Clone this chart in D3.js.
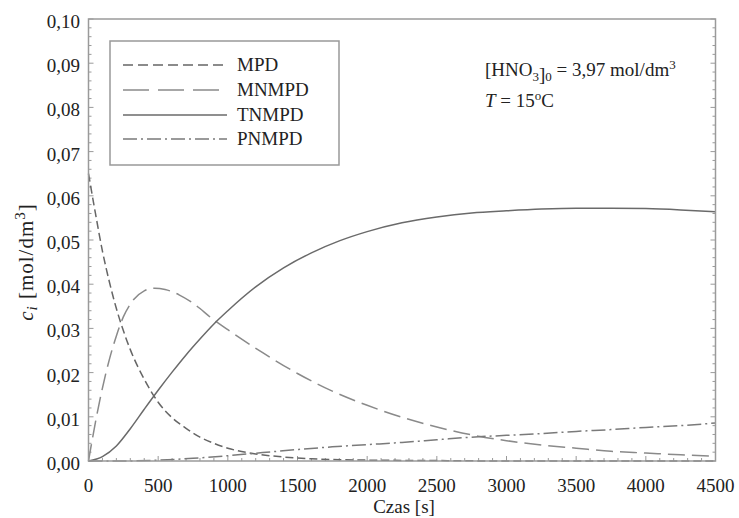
<!DOCTYPE html>
<html>
<head>
<meta charset="utf-8">
<script src="https://cdn.jsdelivr.net/npm/d3@7"></script>
<style>
  body { margin: 0; background: #fff; }
  text { font-family: "Liberation Serif", "DejaVu Serif", serif; fill: #222; }
</style>
</head>
<body>
<svg id="chart" width="739" height="518"></svg>
<script>
// values
let mpd_t = [0, 50, 100, 150, 200, 250, 300, 400, 500, 600, 700, 800, 900, 1000, 1200, 1400, 1600, 1800, 2000, 2500, 3000, 3500, 4000, 4500];
let mpd_c = [0.065, 0.056, 0.0475, 0.0405, 0.0345, 0.0295, 0.0252, 0.0185, 0.0133, 0.0098, 0.0074, 0.0054, 0.004, 0.0029, 0.0016, 0.0009, 0.0005, 0.0003, 0.0002, 0.0001, 0, 0, 0, 0];

let mnmpd_t = [0, 25, 50, 100, 150, 200, 250, 300, 400, 475, 550, 650, 750, 900, 1000, 1250, 1500, 1750, 2000, 2250, 2500, 2750, 3000, 3250, 3500, 3750, 4000, 4250, 4500];
let mnmpd_c = [0, 0.0045, 0.0088, 0.0165, 0.0230, 0.0283, 0.0326, 0.0355, 0.0385, 0.0391, 0.0388, 0.0376, 0.0357, 0.0319, 0.0297, 0.0245, 0.0198, 0.0158, 0.0126, 0.0099, 0.0077, 0.0059, 0.0046, 0.0036, 0.0029, 0.0022, 0.0018, 0.0014, 0.0011];

let tnmpd_t = [0, 100, 200, 300, 400, 500, 600, 700, 800, 900, 1000, 1200, 1400, 1600, 1800, 2000, 2250, 2500, 2750, 3000, 3250, 3500, 3750, 4000, 4250, 4500];
let tnmpd_c = [0, 0.001, 0.0034, 0.0073, 0.0117, 0.016, 0.0201, 0.024, 0.0276, 0.031, 0.034, 0.0394, 0.0437, 0.0471, 0.0498, 0.0519, 0.0539, 0.0552, 0.0561, 0.0566, 0.057, 0.0572, 0.0572, 0.0571, 0.0568, 0.0564];

let pnmpd_t = [0, 250, 500, 750, 1000, 1250, 1500, 1750, 2000, 2250, 2500, 2750, 3000, 3250, 3500, 3750, 4000, 4250, 4500];
let pnmpd_c = [0, 0, 0.0002, 0.0006, 0.0012, 0.0019, 0.0026, 0.0032, 0.0037, 0.0042, 0.0048, 0.0054, 0.0058, 0.0062, 0.0067, 0.0071, 0.0076, 0.008, 0.0086];

let series_names = ["MPD", "MNMPD", "TNMPD", "PNMPD"];
let series_dash = ["8,4", "17,7", null, "14,4,2,4"];
let series_color = ["#666", "#8a8a8a", "#6a6a6a", "#7a7a7a"];

let x_ticks = [0, 500, 1000, 1500, 2000, 2500, 3000, 3500, 4000, 4500];
let y_ticks = [0, 0.01, 0.02, 0.03, 0.04, 0.05, 0.06, 0.07, 0.08, 0.09, 0.10];

let svg = d3.select("#chart");
let p_left = 88.5, p_right = 715.5, p_top = 19, p_bottom = 461;

let xScale = d3.scaleLinear().domain([0, 4500]).range([p_left, p_right]);
let yScale = d3.scaleLinear().domain([0, 0.1]).range([p_bottom, p_top]);

let frame = "#9a9a9a";
let fmt = function (d) { return d3.format(".2f")(d).replace(".", ","); };

// minor + major ticks, all pointing inside
let g = svg.append("g");
d3.range(0, 4501, 100).forEach(function (t) {
    let len = (t % 500 === 0) ? 5 : 3;
    g.append("line")
        .attr("x1", xScale(t)).attr("x2", xScale(t))
        .attr("y1", p_bottom).attr("y2", p_bottom - len)
        .attr("stroke", frame).attr("stroke-width", 1);
});
d3.range(0, 51).forEach(function (k) {
    let v = k * 0.002;
    let len = (k % 5 === 0) ? 5 : 3;
    g.append("line")
        .attr("x1", p_left).attr("x2", p_left + len)
        .attr("y1", yScale(v)).attr("y2", yScale(v))
        .attr("stroke", frame).attr("stroke-width", 1);
    g.append("line")
        .attr("x1", p_right).attr("x2", p_right - len)
        .attr("y1", yScale(v)).attr("y2", yScale(v))
        .attr("stroke", frame).attr("stroke-width", 1);
});

// tick labels
svg.append("g").selectAll("text")
    .data(x_ticks)
    .enter().append("text")
    .attr("x", function (d) { return xScale(d); })
    .attr("y", 492)
    .attr("text-anchor", "middle")
    .attr("font-size", "19px")
    .text(function (d) { return d; });

svg.append("g").selectAll("text")
    .data(y_ticks)
    .enter().append("text")
    .attr("x", 80)
    .attr("y", function (d) { return yScale(d) + 9; })
    .attr("text-anchor", "end")
    .attr("font-size", "19px")
    .text(function (d) { return fmt(d); });

// axis titles
svg.append("text")
    .attr("x", 404)
    .attr("y", 513)
    .attr("text-anchor", "middle")
    .attr("font-size", "19px")
    .text("Czas [s]");

let ytitle = svg.append("text")
    .attr("transform", "translate(33,262) rotate(-90)")
    .attr("text-anchor", "middle")
    .attr("font-size", "21px")
    .attr("letter-spacing", "1px");
ytitle.append("tspan").attr("font-style", "italic").text("c");
ytitle.append("tspan").attr("font-style", "italic").attr("font-size", "15px").attr("dy", 4).text("i");
ytitle.append("tspan").attr("dy", -4).text(" [mol/dm");
ytitle.append("tspan").attr("font-size", "15px").attr("dy", -8).text("3");
ytitle.append("tspan").attr("dy", 8).text("]");

// curves
let all_t = [mpd_t, mnmpd_t, tnmpd_t, pnmpd_t];
let all_c = [mpd_c, mnmpd_c, tnmpd_c, pnmpd_c];
let line = d3.line()
    .x(function (d) { return xScale(d[0]); })
    .y(function (d) { return yScale(d[1]); })
    .curve(d3.curveMonotoneX);

for (let i = 0; i < series_names.length; i++) {
    let pts = all_t[i].map(function (t, j) { return [t, all_c[i][j]]; });
    svg.append("path")
        .datum(pts)
        .attr("d", line)
        .attr("fill", "none")
        .attr("stroke", series_color[i])
        .attr("stroke-width", 1.5)
        .attr("stroke-dasharray", series_dash[i]);
}

// frame
svg.append("rect")
    .attr("x", p_left).attr("y", p_top)
    .attr("width", p_right - p_left).attr("height", p_bottom - p_top)
    .attr("fill", "none")
    .attr("stroke", frame)
    .attr("stroke-width", 1.5);

// legend
svg.append("rect")
    .attr("x", 110).attr("y", 41)
    .attr("width", 229).attr("height", 124)
    .attr("fill", "none")
    .attr("stroke", "#999")
    .attr("stroke-width", 1.5);

let legend_y = [65, 90, 115, 139];
for (let i = 0; i < series_names.length; i++) {
    svg.append("line")
        .attr("x1", 123).attr("x2", 227)
        .attr("y1", legend_y[i]).attr("y2", legend_y[i])
        .attr("stroke", series_color[i])
        .attr("stroke-width", 1.5)
        .attr("stroke-dasharray", i === 0 ? "10,5" : (i === 1 ? "26,9" : series_dash[i]));
    svg.append("text")
        .attr("x", 237)
        .attr("y", legend_y[i] + 6)
        .attr("font-size", "19px")
        .text(series_names[i]);
}

// annotation
let ann = svg.append("text")
    .attr("x", 485).attr("y", 76)
    .attr("font-size", "19px");
ann.append("tspan").text("[HNO");
ann.append("tspan").attr("font-size", "13px").attr("dy", 5).text("3");
ann.append("tspan").attr("dy", 0).text("]");
ann.append("tspan").attr("font-size", "13px").text("0");
ann.append("tspan").attr("dy", -5).text(" = 3,97 mol/dm");
ann.append("tspan").attr("font-size", "13px").attr("dy", -7).text("3");

let ann2 = svg.append("text")
    .attr("x", 485).attr("y", 107)
    .attr("font-size", "19px");
ann2.append("tspan").attr("font-style", "italic").text("T");
ann2.append("tspan").text(" = 15");
ann2.append("tspan").attr("font-size", "13px").attr("dy", -7).text("o");
ann2.append("tspan").attr("dy", 7).text("C");
</script>
</body>
</html>
